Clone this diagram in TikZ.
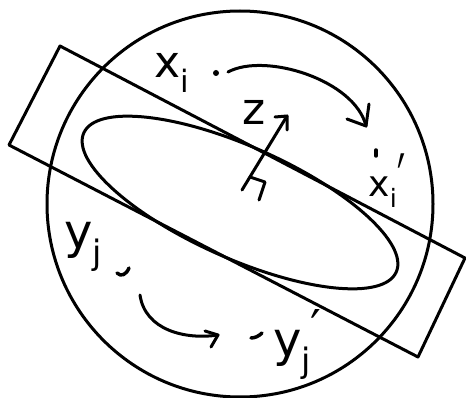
\documentclass[tikz,border=0pt]{standalone}
\usepackage{fontspec}
\setmainfont{DejaVu Sans}
\begin{document}
\begin{tikzpicture}[x=1pt,y=-1pt, line width=3pt, line cap=round, line join=round,
  lbl/.style={inner sep=0pt, anchor=base west, font=\fontsize{44}{44}\selectfont},
  smalllbl/.style={lbl, font=\fontsize{36}{36}\selectfont},
  biglbl/.style={lbl, font=\fontsize{48}{48}\selectfont},
  pt/.style={line width=3.5pt}]
\useasboundingbox (0,0) rectangle (466,398);
% sphere
\draw (240,204) circle[radius=193];
% slab
\draw (60,46) -- (465,258) -- (418,357) -- (9,145) -- cycle;
% ellipse
\draw[rotate around={-24:(240,202.5)}] (240,202.5) ellipse[x radius=171, y radius=56];
% labels
\node[lbl] (xi) at (153,78) {x\textsubscript{i}};
\node[lbl] (z) at (241,125) {z};
\node[smalllbl] (xip) at (367,197) {x\textsubscript{i}\kern0pt\raisebox{-15pt}{\scalebox{1}[2.2]{′}}};
\node[biglbl] (yjp) at (272,356) {y\textsubscript{j}\kern-1pt\raisebox{12pt}{′}};
\node[biglbl] (yj) at (63,248) {y\textsubscript{j}};
% points
\coordinate (pxi) at (216,73);
\fill (pxi) circle[radius=3];
\coordinate (pxip) at (376,153);
\draw[pt] (376,150) -- (376,156);
\coordinate (pyj) at (123,272);
\draw[pt] (117,273) .. controls (121,277) and (126,275) .. (129,268);
\coordinate (pyjp) at (256,336);
\draw[pt] (251,338) .. controls (255,338) and (259,336) .. (262,333);
% arrows
\coordinate (xs) at (228,72);
\coordinate (xe) at (366,126);
\draw (xs) .. controls (265,52) and (355,80) .. (xe);
\draw (347,119) -- (xe) -- (369,104);
\coordinate (ys) at (140,295);
\coordinate (ye) at (218,335);
\draw (ys) .. controls (145,330) and (185,340) .. (ye);
\draw (205,331) -- (ye) -- (211,347);
% normal z
\coordinate (zb) at (242,190);
\coordinate (zt) at (287,116);
\draw (zb) -- (zt);
\draw (275,117) -- (zt) -- (287,130);
\draw (250,177) -- (265,182) -- (259,200);
\end{tikzpicture}
\end{document}
